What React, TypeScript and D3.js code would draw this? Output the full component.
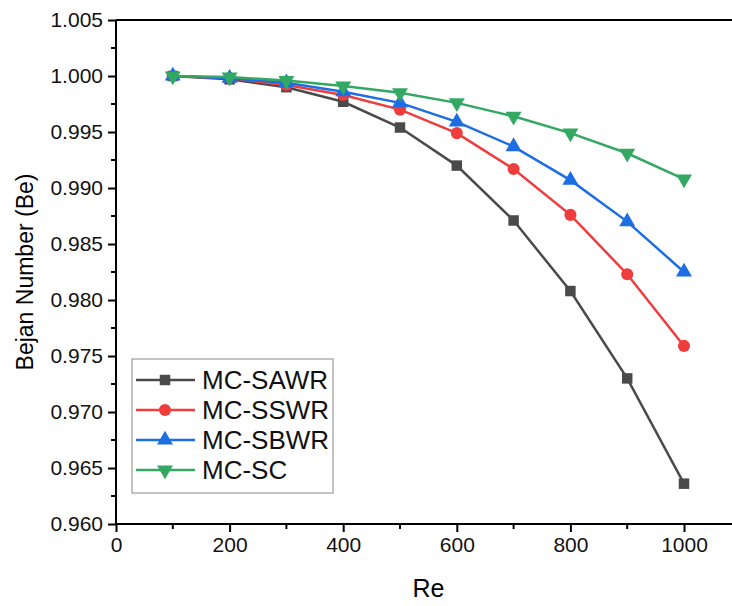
import React, { useRef, useEffect } from 'react';
import * as d3 from 'd3';

const reValues = [100, 200, 300, 400, 500, 600, 700, 800, 900, 1000];
const sawr = [1.0, 0.9997, 0.999, 0.9977, 0.9954, 0.992, 0.9871, 0.9808, 0.973, 0.9636];
const sswr = [1.0, 0.9998, 0.9992, 0.9983, 0.997, 0.9949, 0.9917, 0.9876, 0.9823, 0.9759];
const sbwr = [1.0, 0.9998, 0.9994, 0.9986, 0.9976, 0.9959, 0.9937, 0.9907, 0.987, 0.9825];
const sc = [1.0, 0.9999, 0.9996, 0.9991, 0.9985, 0.9976, 0.9964, 0.9949, 0.9931, 0.9908];
const xTicks = [0, 200, 400, 600, 800, 1000];
const yTicks = [0.96, 0.965, 0.97, 0.975, 0.98, 0.985, 0.99, 0.995, 1.0, 1.005];

const series = [
  { name: 'MC-SAWR', values: sawr, color: '#4a4a4a', symbol: d3.symbolSquare },
  { name: 'MC-SSWR', values: sswr, color: '#ef3d3d', symbol: d3.symbolCircle },
  { name: 'MC-SBWR', values: sbwr, color: '#1d6de3', symbol: d3.symbolTriangle },
  { name: 'MC-SC', values: sc, color: '#33a862', symbol: 'down' },
];

const App = () => {
  const svgRef = useRef(null);

  useEffect(() => {
    const width = 732, height = 606;
    const margin = { top: 20, left: 116, bottom: 82 };
    const svg = d3.select(svgRef.current);
    svg.selectAll('*').remove();

    const x = d3.scaleLinear().domain([0, 1100]).range([margin.left, margin.left + 1100 * 0.568]);
    const y = d3.scaleLinear().domain([0.96, 1.005]).range([height - margin.bottom, margin.top]);
    const font = '"Liberation Sans", Arial, sans-serif';

    // frame top line
    svg.append('line')
      .attr('x1', margin.left).attr('x2', width + 5)
      .attr('y1', y(1.005)).attr('y2', y(1.005))
      .attr('stroke', '#000').attr('stroke-width', 2);

    // x axis
    const xAxis = d3.axisBottom(x).tickValues(xTicks).tickFormat(d3.format('d')).tickSize(8).tickPadding(5);
    const gx = svg.append('g').attr('transform', `translate(0,${y(0.96)})`).call(xAxis);
    gx.attr('font-size', null).attr('font-family', null);
    gx.select('.domain').attr('stroke-width', 2).attr('d', `M${margin.left},0H${width + 5}`);
    gx.selectAll('.tick line').attr('stroke-width', 2);
    gx.selectAll('.tick text').style('font-family', font).style('font-size', '21px').attr('fill', '#111');
    gx.selectAll('.minor').data([100, 300, 500, 700, 900]).join('line')
      .attr('x1', d => x(d)).attr('x2', d => x(d)).attr('y1', 0).attr('y2', 5)
      .attr('stroke', '#000').attr('stroke-width', 2);

    // y axis
    const yAxis = d3.axisLeft(y).tickValues(yTicks).tickFormat(d3.format('.3f')).tickSize(8).tickPadding(5);
    const gy = svg.append('g').attr('transform', `translate(${margin.left},0)`).call(yAxis);
    gy.attr('font-size', null).attr('font-family', null);
    gy.select('.domain').attr('stroke-width', 2).attr('d', `M0,${y(1.005)}V${y(0.96)}`);
    gy.selectAll('.tick line').attr('stroke-width', 2);
    gy.selectAll('.tick text').style('font-family', font).style('font-size', '21px').attr('fill', '#111');
    gy.selectAll('.minor').data(d3.range(9).map(i => 0.9625 + i * 0.005)).join('line')
      .attr('y1', d => y(d)).attr('y2', d => y(d)).attr('x1', 0).attr('x2', -5)
      .attr('stroke', '#000').attr('stroke-width', 2);

    // axis titles
    svg.append('text')
      .attr('x', x(550)).attr('y', 597)
      .attr('text-anchor', 'middle').style('font-family', font).style('font-size', '25px')
      .text('Re');
    svg.append('text')
      .attr('transform', `translate(33,${y(0.9825)})rotate(-90)`)
      .attr('text-anchor', 'middle').style('font-family', font).style('font-size', '23px')
      .text('Bejan Number (Be)');

    const symbolPath = (sym, size) => {
      if (sym === 'down') {
        return d3.symbol(d3.symbolTriangle, size)().toString();
      }
      return d3.symbol(sym, size)();
    };
    const sizeOf = s => (s.symbol === d3.symbolSquare ? 110 : s.symbol === d3.symbolCircle ? 115 : 110);

    const line = d3.line().x((d, i) => x(reValues[i])).y(d => y(d));

    series.forEach(s => {
      const g = svg.append('g');
      g.append('path').attr('d', line(s.values)).attr('fill', 'none')
        .attr('stroke', s.color).attr('stroke-width', 2.5);
      g.selectAll('path.m').data(s.values).join('path').attr('class', 'm')
        .attr('d', symbolPath(s.symbol, sizeOf(s)))
        .attr('transform', (d, i) => `translate(${x(reValues[i])},${y(d)})${s.symbol === 'down' ? 'rotate(180)' : ''}`)
        .attr('fill', s.color);
    });

    // legend
    const lg = svg.append('g');
    lg.append('rect').attr('x', 132).attr('y', 359).attr('width', 201).attr('height', 134)
      .attr('fill', '#fff').attr('stroke', '#888').attr('stroke-width', 1);
    series.forEach((s, i) => {
      const cy = 380 + i * 30;
      lg.append('line').attr('x1', 136).attr('x2', 195).attr('y1', cy).attr('y2', cy)
        .attr('stroke', s.color).attr('stroke-width', 2.5);
      lg.append('path').attr('d', symbolPath(s.symbol, sizeOf(s)))
        .attr('transform', `translate(165,${cy})${s.symbol === 'down' ? 'rotate(180)' : ''}`)
        .attr('fill', s.color);
      lg.append('text').attr('x', 202).attr('y', cy + 9)
        .style('font-family', font).style('font-size', '26px').attr('fill', '#111')
        .text(s.name);
    });
  }, []);

  return (
    <svg ref={svgRef} width={732} height={606}
      style={{ position: 'absolute', left: 0, top: 0, background: '#fff' }} />
  );
};

export default App;
